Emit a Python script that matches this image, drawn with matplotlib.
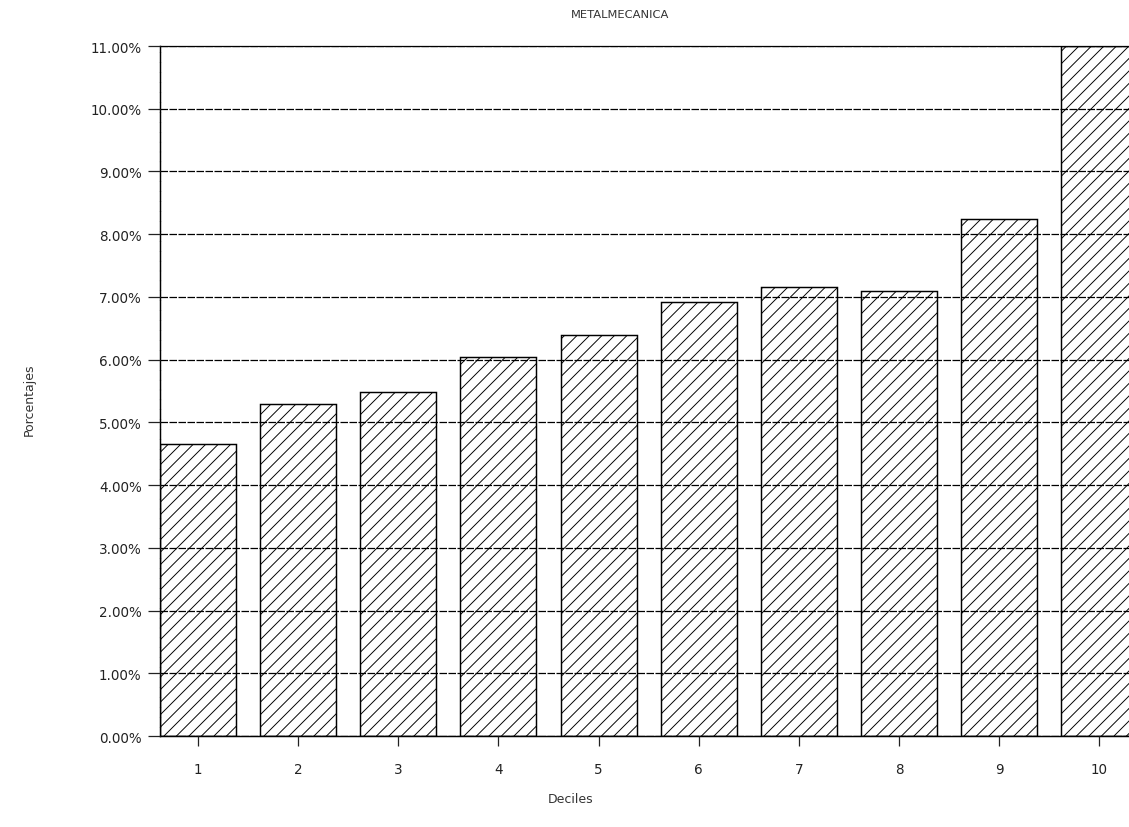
import matplotlib.pyplot as plt
from matplotlib.ticker import FuncFormatter

# Participación por decil (%)
deciles = [1, 2, 3, 4, 5, 6, 7, 8, 9, 10]
porcentajes = [4.65, 5.30, 5.48, 6.05, 6.39, 6.92, 7.16, 7.09, 8.25, 11.00]
marcas_y = [0, 1, 2, 3, 4, 5, 6, 7, 8, 9, 10, 11]

plt.rcParams['hatch.linewidth'] = 0.45
plt.rcParams['hatch.color'] = '#555555'

fig = plt.figure(figsize=(1129 / 150, 828 / 150), dpi=150)
ax = fig.add_axes([0.1417, 0.1099, 0.8583 + 0.01, 0.8333])

# Líneas de cuadrícula por encima de las barras (barras sin relleno)
ax.set_axisbelow(False)
ax.yaxis.grid(True, color='black', linewidth=0.6, linestyle=(0, (6, 1.2)))

ax.bar(deciles, porcentajes, width=0.76, facecolor='none',
       edgecolor='black', linewidth=0.7, hatch='////')

ax.set_xlim(0.62, 10.41)
ax.set_ylim(0, 11)
ax.set_xticks(deciles)
ax.set_xticklabels([str(d) for d in deciles])
ax.set_yticks(marcas_y)
ax.yaxis.set_major_formatter(FuncFormatter(lambda v, p: f"{v:.2f}%"))

ax.tick_params(axis='y', direction='out', length=5.8, width=0.6, pad=3,
               labelsize=6.5, colors='#222222')
ax.tick_params(axis='x', direction='out', length=4.8, width=0.6, pad=7.5,
               labelsize=6.5, colors='#222222')

ax.spines['right'].set_visible(False)
ax.spines['top'].set_linewidth(0.6)
ax.spines['left'].set_linewidth(0.7)
ax.spines['left'].set_linestyle((0, (6, 0.8)))
ax.spines['bottom'].set_linewidth(0.7)

fig.text(0.549, 0.982, "METALMECANICA", ha='center', va='center',
         fontsize=5.5, color='#333333')
fig.text(0.505, 0.034, "Deciles", ha='center', va='center',
         fontsize=6, color='#333333')
fig.text(0.026, 0.517, "Porcentajes", ha='center', va='center',
         rotation=90, fontsize=6, color='#333333')

fig.savefig("out.png", dpi=150)
